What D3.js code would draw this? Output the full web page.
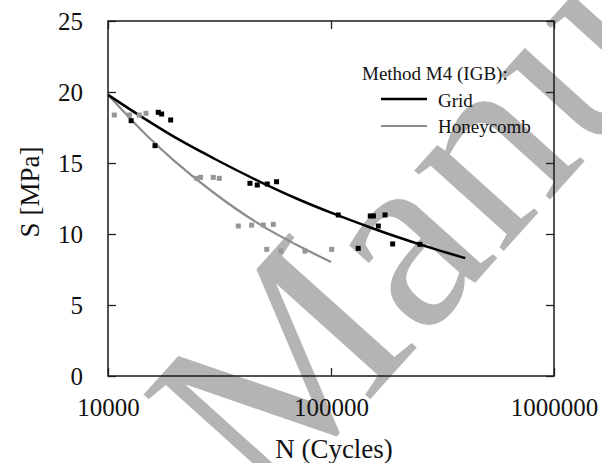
<!DOCTYPE html>
<html><head><meta charset="utf-8">
<script src="https://cdn.jsdelivr.net/npm/d3@7"></script>
<style>body{margin:0;background:#fff}svg{display:block}</style>
</head><body>
<svg id="c" width="602" height="463"></svg>
<script>
// ---- data ----
const xTicks = [10000, 100000, 1000000];
const yTicks = [0, 5, 10, 15, 20, 25];

const gridPointsN = [12700, 16250, 16800, 17400, 19100, 43300, 46700, 51800, 57000, 107800, 132500, 150000, 155000, 163000, 174700, 189100, 250500];
const gridPointsS = [17.98, 16.22, 18.57, 18.45, 18.03, 13.57, 13.45, 13.52, 13.68, 11.34, 8.99, 11.27, 11.27, 10.56, 11.34, 9.30, 9.27];

const honeyPointsN = [10670, 12470, 13810, 14800, 24960, 26010, 29650, 31560, 38390, 44060, 49690, 55100, 51500, 59680, 76400, 100700];
const honeyPointsS = [18.38, 18.38, 18.38, 18.5, 13.92, 13.99, 13.99, 13.92, 10.56, 10.63, 10.63, 10.68, 8.92, 8.80, 8.80, 8.92];

const gridFitN = [10000, 15000, 20000, 30000, 50000, 70000, 100000, 150000, 200000, 300000, 400000];
const gridFitS = [19.8, 18.0, 16.8, 15.3, 13.55, 12.5, 11.5, 10.46, 9.77, 8.88, 8.3];

const honeyFitN = [10000, 15000, 20000, 30000, 50000, 70000, 100000];
const honeyFitS = [19.8, 16.9, 15.1, 12.87, 10.5, 9.24, 8.03];

const legendTitle = "Method M4 (IGB):";
const seriesNames = ["Grid", "Honeycomb"];
const xTitle = "N (Cycles)";
const yTitle = "S [MPa]";
const watermark = "Manu";

// ---- drawing ----
const svg = d3.select("#c");
const FONT = "'Liberation Serif', 'Times New Roman', serif";
const L = 108, R = 554, T = 21, B = 376;
const x = d3.scaleLog().domain([10000, 1000000]).range([L, R]);
const y = d3.scaleLinear().domain([0, 25]).range([B, T]);

svg.append("rect").attr("width", 602).attr("height", 463).attr("fill", "#fff");

// watermark (behind everything)
svg.append("text")
  .attr("transform", "translate(266,515) rotate(-48)")
  .attr("font-family", FONT).attr("font-size", 262)
  .attr("fill", "#b4b4b4")
  .text(watermark);

const colors = {grid: "#000000", honey: "#8c8c8c", honeyPt: "#969696"};

// axes
const gL = svg.append("g").attr("transform", `translate(${L},0)`)
  .call(d3.axisLeft(y).tickValues(yTicks).tickSize(-8).tickPadding(25).tickFormat(d3.format("d")));
const gR = svg.append("g").attr("transform", `translate(${R},0)`)
  .call(d3.axisRight(y).tickValues(yTicks).tickSize(-8).tickFormat(""));
const gB = svg.append("g").attr("transform", `translate(0,${B})`)
  .call(d3.axisBottom(x).tickValues(xTicks).tickSize(-8).tickPadding(22).tickFormat(d3.format("d")));
const gT = svg.append("g").attr("transform", `translate(0,${T})`)
  .call(d3.axisTop(x).tickValues(xTicks).tickSize(-8).tickFormat(""));
[gL, gR, gB, gT].forEach(g => {
  g.select(".domain").remove();
  g.selectAll("line").attr("stroke", "#222").attr("stroke-width", 1.3);
  g.selectAll("text").attr("font-family", FONT).attr("font-size", 25).attr("fill", "#111");
});

svg.append("rect").attr("x", L).attr("y", T).attr("width", R - L).attr("height", B - T)
  .attr("fill", "none").attr("stroke", "#1a1a1a").attr("stroke-width", 1.5);

// titles
svg.append("text").attr("x", 334).attr("y", 458).attr("text-anchor", "middle")
  .attr("font-family", FONT).attr("font-size", 27).attr("fill", "#111").text(xTitle);
svg.append("text").attr("transform", "translate(39,192) rotate(-90)").attr("text-anchor", "middle")
  .attr("font-family", FONT).attr("font-size", 27).attr("fill", "#111").text(yTitle);

// fit curves
const line = d3.line().x(d => x(d[0])).y(d => y(d[1])).curve(d3.curveMonotoneX);
svg.append("path").datum(honeyFitN.map((n, i) => [n, honeyFitS[i]]))
  .attr("d", line).attr("fill", "none").attr("stroke", colors.honey).attr("stroke-width", 2.2);
svg.append("path").datum(gridFitN.map((n, i) => [n, gridFitS[i]]))
  .attr("d", line).attr("fill", "none").attr("stroke", colors.grid).attr("stroke-width", 2.5);

// points
const S = 5;
svg.append("g").selectAll("rect").data(honeyPointsN.map((n, i) => [n, honeyPointsS[i]]))
  .join("rect").attr("x", d => x(d[0]) - S / 2).attr("y", d => y(d[1]) - S / 2)
  .attr("width", S).attr("height", S).attr("fill", colors.honeyPt);
svg.append("g").selectAll("rect").data(gridPointsN.map((n, i) => [n, gridPointsS[i]]))
  .join("rect").attr("x", d => x(d[0]) - S / 2).attr("y", d => y(d[1]) - S / 2)
  .attr("width", S).attr("height", S).attr("fill", colors.grid);

// legend
const lg = svg.append("g");
lg.append("text").attr("x", 362).attr("y", 80).attr("font-family", FONT).attr("font-size", 19)
  .attr("fill", "#111").text(legendTitle);
[[colors.grid, 2.5, 99, 107], [colors.honey, 2.2, 126, 133]].forEach((s, i) => {
  lg.append("line").attr("x1", 381).attr("x2", 427).attr("y1", s[2]).attr("y2", s[2])
    .attr("stroke", s[0]).attr("stroke-width", s[1]);
  lg.append("text").attr("x", 438).attr("y", s[3]).attr("font-family", FONT).attr("font-size", 19)
    .attr("fill", "#111").text(seriesNames[i]);
});
</script>
</body></html>
